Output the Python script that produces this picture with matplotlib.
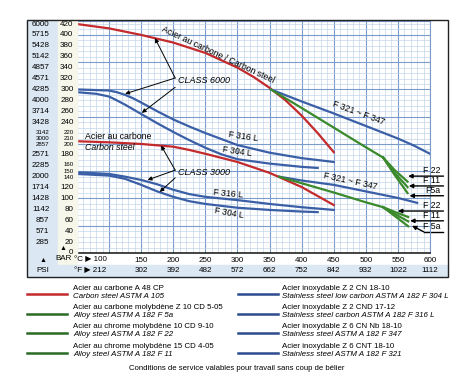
import matplotlib.pyplot as plt
from matplotlib.lines import Line2D
from matplotlib.patches import Rectangle
from matplotlib.transforms import blended_transform_factory
import numpy as np

plt.rcParams['font.family'] = ['Liberation Sans', 'DejaVu Sans']

# ---- data (temperature in deg C, pressure in bar) ----
# CLASS 6000
carbon6000_t = [50, 100, 150, 200, 250, 300, 325, 350, 375, 400, 425, 450]
carbon6000_p = [420, 412, 400, 386, 367, 340, 323, 303, 280, 252, 220, 185]
f321_6000_t = [352, 400, 450, 500, 550, 575, 600]
f321_6000_p = [300, 278, 256, 233, 210, 197, 182]
alloy6000_t = [352, 400, 450, 500, 527]
alloy6000_p = [300, 266, 230, 194, 175]
f22_6000_t = [527, 545, 565]
f22_6000_p = [175, 152, 131]
f11_6000_t = [527, 545, 565]
f11_6000_p = [175, 147, 121]
f5a_6000_t = [527, 545, 565]
f5a_6000_p = [175, 143, 110]
f316_6000_t = [50, 100, 112, 125, 137, 150, 175, 200, 225, 250, 300, 350, 400, 450]
f316_6000_p = [300, 298, 295, 290, 284, 276, 260, 245, 232, 220, 198, 184, 174, 167]
f304_6000_t = [50, 80, 100, 112, 125, 150, 175, 200, 225, 250, 275, 300, 350, 400, 425]
f304_6000_p = [295, 292, 287, 280, 272, 255, 238, 222, 207, 193, 181, 172, 164, 158, 156]

# CLASS 3000
carbon3000_t = [50, 100, 150, 200, 225, 250, 300, 350, 400, 450]
carbon3000_p = [205, 203, 200, 195, 189, 182, 167, 147, 121, 88]
f321_3000_t = [365, 400, 450, 500, 550, 580]
f321_3000_p = [140, 133, 125, 113, 101, 92]
alloy3000_t = [365, 400, 450, 500, 527]
alloy3000_p = [140, 128, 111, 93, 84]
f22_3000_t = [527, 546, 566]
f22_3000_p = [84, 75, 66]
f11_3000_t = [527, 546, 566]
f11_3000_p = [84, 71, 58]
f5a_3000_t = [527, 546, 566]
f5a_3000_p = [84, 67, 49]
f316_3000_t = [50, 100, 125, 150, 175, 200, 225, 250, 300, 350, 400, 450]
f316_3000_p = [148, 145, 140, 134, 126, 116, 108, 103, 97, 90, 84, 79]
f304_3000_t = [50, 100, 125, 150, 175, 200, 225, 250, 300, 350, 400, 425]
f304_3000_p = [145, 142, 136, 125, 113, 103, 95, 90, 83, 79, 76, 75]

# axis labels
bar_ticks = [420, 400, 380, 360, 340, 320, 300, 280, 260, 240, 220, 210, 200,
             180, 160, 150, 140, 120, 100, 80, 60, 40, 20]
psi_pos = [420, 400, 380, 360, 340, 320, 300, 280, 260, 240, 220, 210, 200,
           180, 160, 140, 120, 100, 80, 60, 40, 20]
psi_labels = ['6000', '5715', '5428', '5142', '4857', '4571', '4285', '4000', '3714',
              '3428', '3142', '3000', '2857', '2571', '2285', '2000', '1714', '1428',
              '1142', '857', '571', '285']
temps_c = [100, 150, 200, 250, 300, 350, 400, 450, 500, 550, 600]
temps_f = [212, 302, 392, 482, 572, 662, 752, 842, 932, 1022, 1112]

legend_left = [
    ('Acier au carbone A 48 CP', 'Carbon steel ASTM A 105', 'red'),
    ('Acier au carbone molybdène Z 10 CD 5-05', 'Alloy steel ASTM A 182 F 5a', 'green'),
    ('Acier au chrome molybdène 10 CD 9-10', 'Alloy steel ASTM A 182 F 22', 'green'),
    ('Acier au chrome molybdène 15 CD 4-05', 'Alloy steel ASTM A 182 F 11', 'green'),
]
legend_right = [
    ('Acier inoxydable Z 2 CN 18-10', 'Stainless steel low carbon ASTM A 182 F 304 L', 'blue'),
    ('Acier inoxydable Z 2 CND 17-12', 'Stainless steel carbon ASTM A 182 F 316 L', 'blue'),
    ('Acier inoxydable Z 6 CN Nb 18-10', 'Stainless steel ASTM A 182 F 347', 'blue'),
    ('Acier inoxydable Z 6 CNT 18-10', 'Stainless steel ASTM A 182 F 321', 'blue'),
]

RED = '#c42a2c'
GREEN = '#3a8a2c'
BLUE = '#3b5fa6'
colors = {'red': RED, 'green': '#2a6a25', 'blue': '#2c4b8e'}
BAND = '#dbe7f2'

W, H = 476, 385


def fx(px):
    return px / W


def fy(py):
    return 1 - py / H


fig = plt.figure(figsize=(W / 100, H / 100), dpi=100)

# background bands and frame
fig.patches.append(Rectangle((fx(27), fy(265)), fx(31), fy(20) - fy(265),
                             transform=fig.transFigure, color=BAND, zorder=0))
fig.patches.append(Rectangle((fx(58), fy(265)), fx(19), fy(20) - fy(265),
                             transform=fig.transFigure, color='#f7f6ea', zorder=0))
fig.patches.append(Rectangle((fx(27), fy(277)), fx(421), fy(265) - fy(277),
                             transform=fig.transFigure, color=BAND, zorder=0))
fig.patches.append(Rectangle((fx(27), fy(277)), fx(421), fy(20) - fy(277),
                             transform=fig.transFigure, fill=False, ec='#222222',
                             lw=1.0, zorder=1))

ax = fig.add_axes([fx(77), fy(253), fx(430) - fx(77), fy(21.3) - fy(253)])
ax.set_xlim(50, 600)
ax.set_ylim(0, 425)
ax.set_xticks(np.arange(50, 601, 50))
ax.set_xticks(np.arange(50, 601, 10), minor=True)
ax.set_yticks(np.arange(0, 421, 50))
ax.set_yticks(np.arange(0, 425, 10), minor=True)
ax.grid(which='major', color='#7a9cca', lw=0.8)
ax.grid(which='minor', color='#bfd1e6', lw=0.45)
ax.tick_params(which='both', length=0, labelbottom=False, labelleft=False)
ax.set_axisbelow(True)
for s in ['top', 'right']:
    ax.spines[s].set_color('#7a9cca')
ax.spines['left'].set_color('#111111')
ax.spines['left'].set_linewidth(1.3)
ax.spines['bottom'].set_color('#111111')
ax.spines['bottom'].set_linewidth(1.1)

lw = 1.6
ax.plot(carbon6000_t, carbon6000_p, color=RED, lw=lw)
ax.plot(carbon3000_t, carbon3000_p, color=RED, lw=lw)
for t, p in [(f321_6000_t, f321_6000_p), (f321_3000_t, f321_3000_p),
             (f316_6000_t, f316_6000_p), (f304_6000_t, f304_6000_p),
             (f316_3000_t, f316_3000_p), (f304_3000_t, f304_3000_p)]:
    ax.plot(t, p, color=BLUE, lw=lw)
for t, p in [(alloy6000_t, alloy6000_p), (f22_6000_t, f22_6000_p),
             (f11_6000_t, f11_6000_p), (f5a_6000_t, f5a_6000_p),
             (alloy3000_t, alloy3000_p), (f22_3000_t, f22_3000_p),
             (f11_3000_t, f11_3000_p), (f5a_3000_t, f5a_3000_p)]:
    ax.plot(t, p, color=GREEN, lw=lw)

fs = 5.8
arr = dict(arrowstyle='-|>', color='black', lw=0.7, mutation_scale=6,
           shrinkA=0, shrinkB=0)

# curve labels
ax.text(180, 403, 'Acier au carbone / Carbon steel', rotation=-25,
        rotation_mode='anchor', ha='left', va='bottom', fontsize=6.3)
ax.text(447, 267, 'F 321 ~ F 347', rotation=-20, rotation_mode='anchor',
        ha='left', va='bottom', fontsize=6.3)
ax.text(432, 134, 'F 321 ~ F 347', rotation=-12, rotation_mode='anchor',
        ha='left', va='bottom', fontsize=6.3)
ax.text(285, 210, 'F 316 L', rotation=-8, rotation_mode='anchor', ha='left',
        va='bottom', fontsize=6.3)
ax.text(276, 181, 'F 304 L', rotation=-8, rotation_mode='anchor', ha='left',
        va='bottom', fontsize=6.3)
ax.text(262, 103, 'F 316 L', rotation=-5, rotation_mode='anchor', ha='left',
        va='bottom', fontsize=6.3)
ax.text(263, 70, 'F 304 L', rotation=-10, rotation_mode='anchor', ha='left',
        va='bottom', fontsize=6.3)
ax.text(62, 213, 'Acier au carbone', ha='left', va='center', fontsize=6.3)
ax.text(62, 193, 'Carbon steel', ha='left', va='center', fontsize=6.3,
        style='italic')

# class annotations
ax.text(207, 317, 'CLASS 6000', ha='left', va='center', fontsize=6.5,
        style='italic')
ax.annotate('', xy=(171.5, 394), xytext=(203, 321), arrowprops=arr)
ax.annotate('', xy=(125, 292), xytext=(203, 321), arrowprops=arr)
ax.annotate('', xy=(151, 257), xytext=(203, 304), arrowprops=arr)
ax.text(207, 147, 'CLASS 3000', ha='left', va='center', fontsize=6.5,
        style='italic')
ax.annotate('', xy=(181, 197), xytext=(203, 152), arrowprops=arr)
ax.annotate('', xy=(160, 134), xytext=(203, 152), arrowprops=arr)
ax.annotate('', xy=(179, 112), xytext=(203, 138), arrowprops=arr)

# right side markers for the alloy steels
arr2 = dict(arrowstyle='-|>', color='black', lw=1.0, mutation_scale=6,
            shrinkA=0, shrinkB=0)
for name, p, tip in [('F 22', 141, 566), ('F 11', 123, 567), ('F5a', 105, 568),
                     ('F 22', 77, 550), ('F 11', 59, 569)]:
    ax.annotate('', xy=(tip, p), xytext=(621, p), arrowprops=arr2,
                annotation_clip=False)
    ax.text(616, p + 2, name, ha='right', va='bottom', fontsize=6.3,
            clip_on=False)
ax.annotate('', xy=(572, 50), xytext=(590, 39), arrowprops=arr2,
            annotation_clip=False)
ax.plot([590, 621], [39, 39], color='black', lw=1.0, clip_on=False)
ax.text(616, 41, 'F 5a', ha='right', va='bottom', fontsize=6.3, clip_on=False)

# y tick labels (bar and psi columns); crowded ones are squeezed like the original
crowded = {220: 1.6, 210: 0, 200: -1.6, 160: 1.6, 150: 0, 140: -1.6}
ty = blended_transform_factory(fig.transFigure, ax.transData)
for b in bar_ticks:
    off = crowded.get(b, 0)
    size = 4.4 if b in crowded else fs
    fig.text(fx(73.5), b + off, str(b), transform=ty, ha='right', va='center',
             fontsize=size)
for b, lab in zip(psi_pos, psi_labels):
    squeeze = b in (220, 210, 200)
    off = crowded.get(b, 0) if squeeze else 0
    fig.text(fx(49.5), b + off, lab, transform=ty, ha='right', va='center',
             fontsize=4.4 if squeeze else fs)
fig.text(fx(63), fy(248), '▲', ha='center', va='center', fontsize=5)
fig.text(fx(73.5), fy(253), '0', ha='right', va='center', fontsize=fs)

# x tick labels (deg C and deg F rows)
tx = blended_transform_factory(ax.transData, fig.transFigure)
for c in temps_c[1:]:
    fig.text(c, fy(260), str(c), transform=tx, ha='center', va='center',
             fontsize=fs)
for c, f in zip(temps_c[1:], temps_f[1:]):
    fig.text(c, fy(271), str(f), transform=tx, ha='center', va='center',
             fontsize=fs)
fig.text(96, fy(260), '°C ▶ 100', transform=tx, ha='right', va='center',
         fontsize=fs)
fig.text(96, fy(271), '°F ▶ 212', transform=tx, ha='right', va='center',
         fontsize=fs)
fig.text(fx(64), fy(259), 'BAR', ha='center', va='center', fontsize=fs)
fig.text(fx(43), fy(261), '▲', ha='center', va='center', fontsize=5)
fig.text(fx(43), fy(271), 'PSI', ha='center', va='center', fontsize=fs)

# legend
for i, (fr, en, c) in enumerate(legend_left):
    y0 = 288 + 19.5 * i
    fig.add_artist(Line2D([fx(27), fx(67)], [fy(y0 + 6)] * 2, color=colors[c],
                          lw=1.8))
    fig.text(fx(73), fy(y0), fr, ha='left', va='center', fontsize=5.7)
    fig.text(fx(73), fy(y0 + 8), en, ha='left', va='center', fontsize=5.7,
             style='italic')
for i, (fr, en, c) in enumerate(legend_right):
    y0 = 288 + 19.5 * i
    fig.add_artist(Line2D([fx(238), fx(278)], [fy(y0 + 6)] * 2, color=colors[c],
                          lw=1.8))
    fig.text(fx(282), fy(y0), fr, ha='left', va='center', fontsize=5.7)
    fig.text(fx(282), fy(y0 + 8), en, ha='left', va='center', fontsize=5.7,
             style='italic')

fig.text(fx(237), fy(368), 'Conditions de service valables pour travail sans coup de bélier',
         ha='center', va='center', fontsize=5.6)

fig.savefig('out.png', dpi=100)
